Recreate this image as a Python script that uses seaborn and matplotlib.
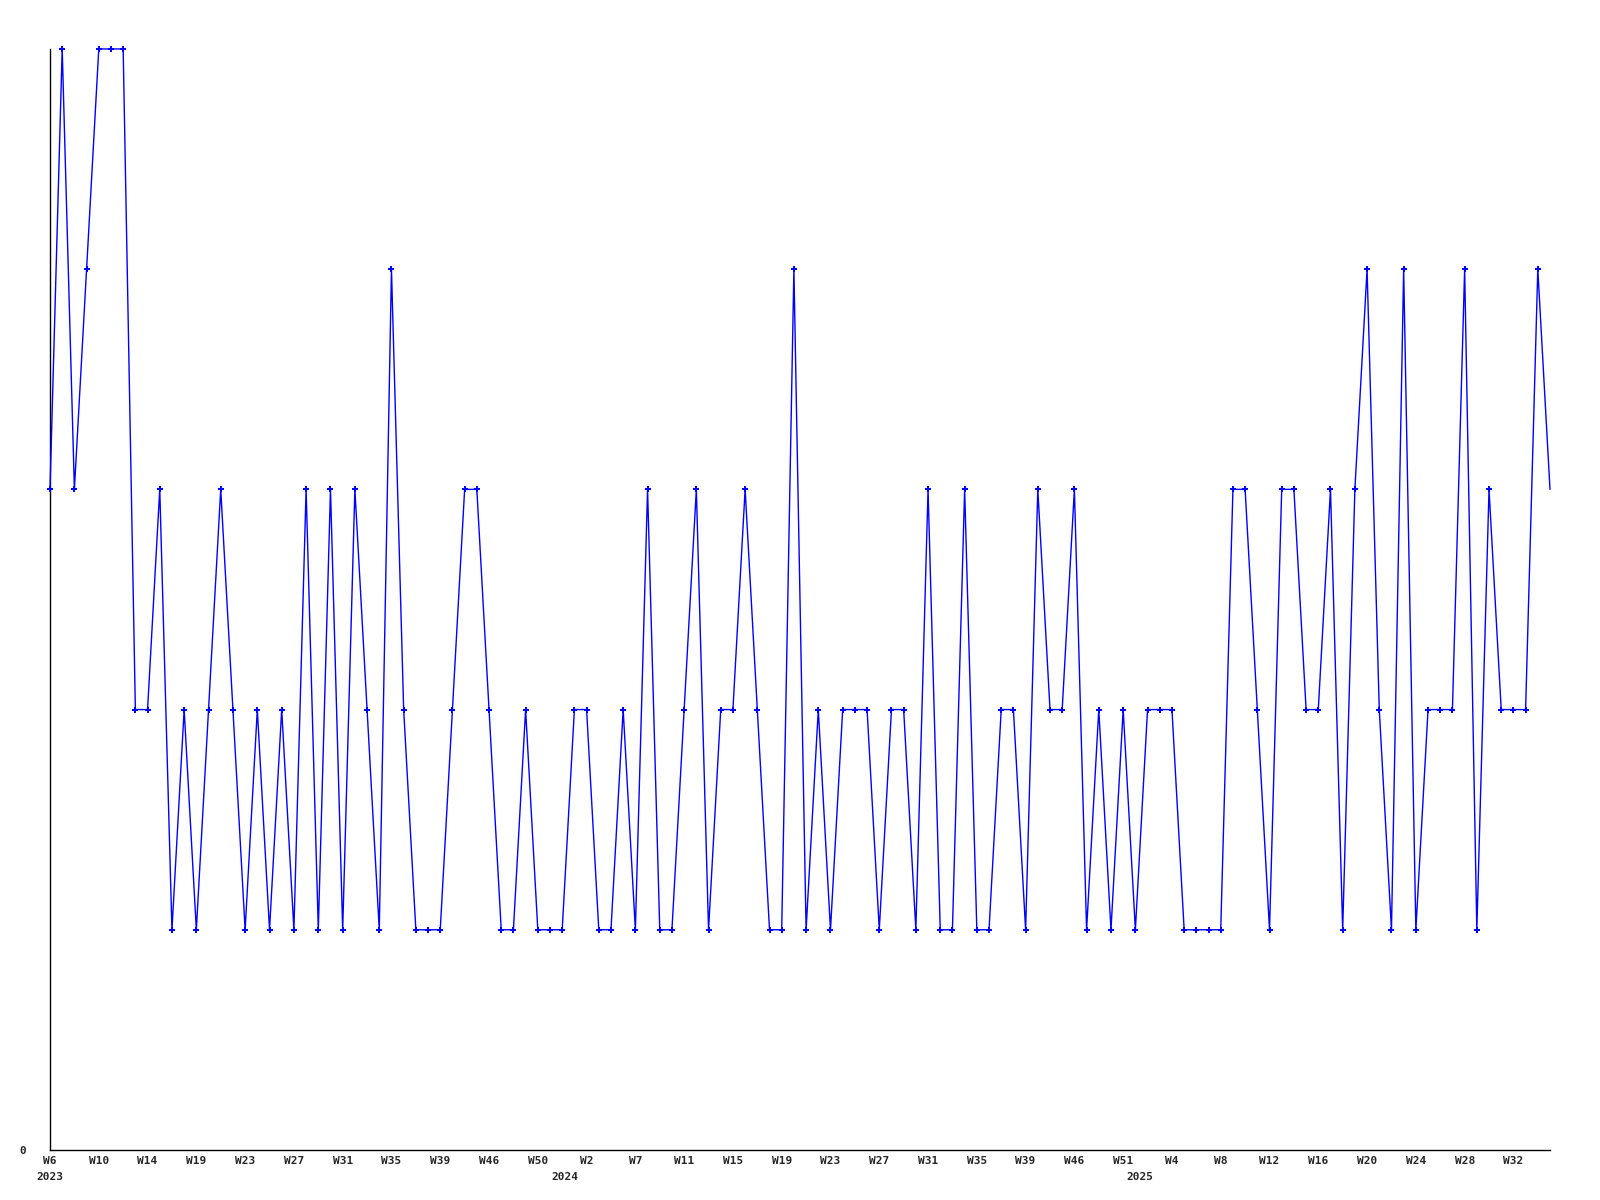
import matplotlib
matplotlib.use("Agg")
import matplotlib.pyplot as plt
import seaborn as sns
import pandas as pd
import numpy as np

# weekly values, one per point (last one is the partial current week)
values = [3, 5, 3, 4, 5, 5, 5, 2, 2, 3,
          1, 2, 1, 2, 3, 2, 1, 2, 1, 2,
          1, 3, 1, 3, 1, 3, 2, 1, 4, 2,
          1, 1, 1, 2, 3, 3, 2, 1, 1, 2,
          1, 1, 1, 2, 2, 1, 1, 2, 1, 3,
          1, 1, 2, 3, 1, 2, 2, 3, 2, 1,
          1, 4, 1, 2, 1, 2, 2, 2, 1, 2,
          2, 1, 3, 1, 1, 3, 1, 1, 2, 2,
          1, 3, 2, 2, 3, 1, 2, 1, 2, 1,
          2, 2, 2, 1, 1, 1, 1, 3, 3, 2,
          1, 3, 3, 2, 2, 3, 1, 3, 4, 2,
          1, 4, 1, 2, 2, 2, 4, 1, 3, 2,
          2, 2, 4, 3]

week_labels = ["W6", "W10", "W14", "W19", "W23", "W27", "W31", "W35", "W39",
               "W46", "W50", "W2", "W7", "W11", "W15", "W19", "W23", "W27",
               "W31", "W35", "W39", "W46", "W51", "W4", "W8", "W12", "W16",
               "W20", "W24", "W28", "W32"]
label_step = 4

year_labels = ["2023", "2024", "2025"]
year_pos = [0, 42.2, 89.4]

df = pd.DataFrame({"idx": np.arange(len(values)), "value": values})

sns.set_style("white")
plt.rcParams["font.family"] = ["DejaVu Sans Mono"]

fig = plt.figure(figsize=(16, 12), dpi=100)
ax = fig.add_axes([0.03125, 0.0417, 0.9375, 0.9175])

# no marker on the last (partial) week, it sits on the right edge
sns.lineplot(data=df, x="idx", y="value", ax=ax, sort=False,
             color="#0000ff", linewidth=1.0, marker="P", markersize=4.5,
             markeredgewidth=0, markevery=list(range(len(values) - 1)),
             clip_on=False, zorder=3)

ax.set_xlim(0, len(values) - 1)
ax.set_ylim(0, 5)
ax.set_yticks([0])
ax.set_yticklabels(["0"], fontsize=8, fontweight="bold")
ticks = np.arange(0, len(week_labels) * label_step, label_step)
ax.set_xticks(ticks)
ax.set_xticklabels(week_labels, fontsize=8, fontweight="bold")
ax.tick_params(axis="both", length=0)
ax.tick_params(axis="y", pad=17)
ax.tick_params(axis="x", pad=4)
ax.set_xlabel("")
ax.set_ylabel("")

for lab, pos in zip(year_labels, year_pos):
    ax.text(pos, -0.0245, lab, transform=ax.get_xaxis_transform(),
            ha="center", va="center", fontsize=8, fontweight="bold")

sns.despine(ax=ax)
for side in ["left", "bottom"]:
    ax.spines[side].set_color("black")
    ax.spines[side].set_linewidth(1.0)

fig.savefig("out.png", dpi=100)
